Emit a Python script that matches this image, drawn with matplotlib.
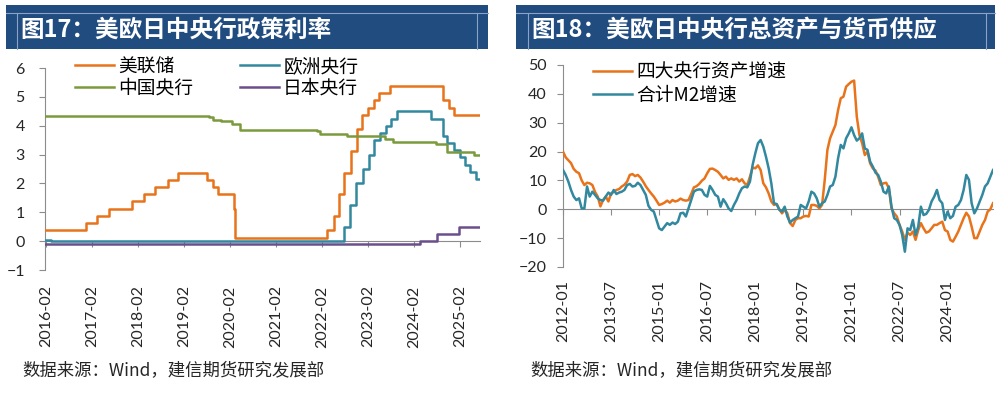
# -*- coding: utf-8 -*-
"""
图17/图18: 美欧日中央行政策利率 & 总资产与货币供应
"""
import numpy as np
import pandas as pd
import matplotlib
matplotlib.use('Agg')
import matplotlib.pyplot as plt
import matplotlib.dates as mdates
from matplotlib.patches import Rectangle
from matplotlib.lines import Line2D

plt.rcParams['font.family'] = ['Lato', 'Noto Sans CJK SC', 'DejaVu Sans']

##########################################################################
## 1. Data
## 1.1 policy rates (change points, step series)
start_date, end_date = '2016-01-25', '2025-07-10'

fed_dates = ['2016-01-25', '2016-12-15', '2017-03-16', '2017-06-15', '2017-12-14',
             '2018-03-22', '2018-06-14', '2018-09-27', '2018-12-20', '2019-08-01',
             '2019-09-19', '2019-10-31', '2020-03-04', '2020-03-16', '2022-03-17',
             '2022-05-05', '2022-06-16', '2022-07-28', '2022-09-22', '2022-11-03',
             '2022-12-15', '2023-02-02', '2023-03-23', '2023-05-04', '2023-07-27',
             '2024-09-19', '2024-11-08', '2024-12-19']
fed_rates = [0.375, 0.625, 0.875, 1.125, 1.375, 1.625, 1.875, 2.125, 2.375, 2.125,
             1.875, 1.625, 1.125, 0.125, 0.375, 0.875, 1.625, 2.375, 3.125, 3.875,
             4.375, 4.625, 4.875, 5.125, 5.375, 4.875, 4.625, 4.375]

ecb_dates = ['2016-01-25', '2016-03-16', '2022-07-27', '2022-09-14', '2022-11-02',
             '2022-12-21', '2023-02-08', '2023-03-22', '2023-05-10', '2023-06-21',
             '2023-08-02', '2023-09-20', '2024-06-12', '2024-09-18', '2024-10-23',
             '2024-12-18', '2025-02-05', '2025-03-12', '2025-04-23', '2025-06-11']
ecb_rates = [0.05, 0.00, 0.50, 1.25, 2.00, 2.50, 3.00, 3.50, 3.75, 4.00,
             4.25, 4.50, 4.25, 3.65, 3.40, 3.15, 2.90, 2.65, 2.40, 2.15]

pboc_dates = ['2016-01-25', '2019-08-20', '2019-09-20', '2019-11-20', '2020-02-20',
              '2020-04-20', '2021-12-20', '2022-01-20', '2022-08-22', '2023-06-20',
              '2023-08-21', '2024-07-22', '2024-10-21', '2025-05-20']
pboc_rates = [4.35, 4.31, 4.20, 4.15, 4.05, 3.85, 3.80, 3.70, 3.65, 3.55,
              3.45, 3.35, 3.10, 3.00]

boj_dates = ['2016-01-25', '2024-03-19', '2024-07-31', '2025-01-24']
boj_rates = [-0.10, 0.00, 0.25, 0.50]

## 1.2 total assets / M2 growth (monthly, from 2012-01)
asset_growth = [20, 18, 17, 16, 14, 13, 12.5, 10, 8.4, 9.2, 9, 8.4, 6, 4.4, 1, 3.2,
                4.4, 2.7, 5.5, 6, 6.7, 7, 7.9, 8.5, 9.6, 11.9, 12.2, 11.5, 11.9, 11, 9.6, 8,
                6.7, 5.5, 4.4, 3, 1.5, 1.8, 2.3, 3, 2.3, 3.2, 2.7, 3, 3.7, 3.2, 3, 3.2,
                5.3, 7.6, 8, 8.8, 9.9, 10.7, 12.5, 14, 14.1, 13.6, 13, 11.9, 10.7, 11.3, 10.2, 10.7,
                10.2, 10.7, 9.6, 10.4, 9, 8.4, 11.3, 14.5, 14.2, 15.2, 13.6, 9, 7.6, 5.5, 2.7, 1.5,
                1.8, 0, -1.4, -0.2, -1.4, -4.8, -5.8, -3.7, -3.1, -3.1, -2.5, -2.3, -2.5, 1.5, 1.5, 1.2,
                0.3, 1.5, 10.2, 20.6, 24.6, 26.9, 29.2, 34.4, 38.5, 39, 42.5, 43.4, 44.2, 44.6, 32.1, 25.7,
                22.9, 18.8, 20, 15.9, 14.2, 13.4, 11.3, 8.4, 9, 9.2, 7.3, 0.3, -1.4, -2.5, -5.4, -7.7,
                -10.6, -8.1, -8.9, -7.7, -10.6, -7.2, -4.8, -6.6, -8.1, -7.7, -6.6, -5.4, -5.4, -4.8, -4.3, -7.2,
                -7.7, -10.6, -11.2, -9.5, -7.7, -5.4, -3.1, -1.2, -2.5, -6, -10, -10, -7.7, -5.4, -3.7, -0.8,
                0, 2.1]
m2_growth = [13.6, 11.9, 9.6, 6.7, 4.4, 3.2, 3.8, 0.3, 0.3, 7.9, 4.4, 6.1, 5, 3.8, 3.2, 3,
             4.4, 5.8, 5, 6.7, 5.3, 5.8, 6.1, 6.7, 8.4, 8.8, 7.9, 8.1, 9.2, 8.4, 6.7, 5,
             1.2, -0.2, -0.8, -3.7, -6.6, -7.2, -6, -4.8, -5.4, -4.6, -5.1, -4.3, -1.4, -1.2, -2.5, 0.3,
             3.2, 6.1, 6.7, 6.9, 6.7, 5, 4.4, 8.1, 6.7, 5, 4.4, 0.9, 3.5, 2.1, 0.3, -0.6,
             1.5, 3.2, 5.5, 7.3, 7.9, 7.6, 9.6, 15.4, 19.4, 22.9, 24, 21.7, 18.2, 14.2, 9, 2.1,
             1.8, -0.2, -0.8, 0.9, -2.5, -4.6, -3.7, -3.1, -2.5, 1.5, 0.9, 0.3, 2.7, 6.1, 5.5, 3.8,
             0.9, 2.1, 2.7, 5, 7.9, 8.4, 11.3, 17.7, 22.3, 21.1, 24.6, 26.3, 28.4, 25.7, 23.8, 24.6,
             26.3, 21.1, 20.6, 16.5, 14.8, 12.7, 11.9, 9.6, 6.1, 5.5, 7.9, 0.9, -3.1, -3.7, -5.4, -8.9,
             -14.7, -6.6, -7.2, -3.7, -8.9, -6, 0.9, -2, -1.6, -0.2, 2.7, 4.4, 6.7, 3.2, 2.1, -3.7,
             -0.8, -3.1, -2.3, 0.9, 1.5, 3.2, 6.7, 11.9, 10.2, 2.1, -1.4, 0.3, 2.7, 5, 7.9, 9,
             11.3, 13.6]
months = pd.period_range('2012-01', periods=len(asset_growth), freq='M').strftime('%Y-%m')

##########################################################################
## 2. Styles
c_orange = '#E8731A'
c_teal = '#31889F'
c_green = '#7A9A3C'
c_purple = '#6A4F8C'
c_bar = '#214C80'
c_barline = '#8AA3C6'
c_axis = '#8C8C8C'
c_text = '#262626'

W, H = 1005, 396
fig = plt.figure(figsize=(W / 100, H / 100), dpi=100)


def fx(x):
    return x / W


def fy(y):
    return 1 - y / H


def title_bar(x0, x1, ix0, ix1, text):
    fig.add_artist(Rectangle((fx(x0), fy(49)), fx(x1 - x0), (49 - 5) / H,
                             transform=fig.transFigure, facecolor=c_bar, edgecolor='none'))
    fig.add_artist(Line2D([fx(x0), fx(x1)], [fy(13), fy(13)], transform=fig.transFigure,
                          color=c_barline, lw=0.8))
    for xi in (ix0, ix1):
        fig.add_artist(Line2D([fx(xi), fx(xi)], [fy(13), fy(49)], transform=fig.transFigure,
                              color=c_barline, lw=0.8))
    fig.text(fx(ix0 + 3), fy(30), text, color='white', fontsize=17, fontweight='bold',
             va='center', ha='left', family=['Noto Sans CJK SC', 'DejaVu Sans'])


def style_axes(ax, pad_y):
    ax.spines['top'].set_visible(False)
    ax.spines['right'].set_visible(False)
    ax.spines['left'].set_color(c_axis)
    ax.spines['bottom'].set_color(c_axis)
    ax.spines['bottom'].set_position(('data', 0))
    ax.tick_params(axis='y', direction='out', length=4.5, width=0.8, color=c_axis,
                   labelsize=11.5, labelcolor=c_text, pad=pad_y)
    ax.tick_params(axis='x', direction='out', length=4, width=0.8, color=c_axis,
                   labelbottom=False)
    ax.set_facecolor('none')


def step_line(ax, dates, rates, color, label, z=3):
    d = pd.to_datetime(dates + [end_date])
    r = rates + [rates[-1]]
    ax.step(d, r, where='post', color=color, lw=1.8, label=label, zorder=z)


##########################################################################
## 3. Left: policy rates
title_bar(6, 488, 17, 477, '图17：美欧日中央行政策利率')
ax1 = fig.add_axes([fx(45), fy(270), fx(480 - 45), (270 - 68) / H])
step_line(ax1, fed_dates, fed_rates, c_orange, '美联储')
step_line(ax1, ecb_dates, ecb_rates, c_teal, '欧洲央行')
step_line(ax1, pboc_dates, pboc_rates, c_green, '中国央行')
step_line(ax1, boj_dates, boj_rates, c_purple, '日本央行')
ax1.set_ylim(-1, 6)
ax1.set_yticks(range(-1, 7))
ax1.set_xlim(pd.Timestamp(start_date), pd.Timestamp(end_date))
style_axes(ax1, 10)
ax1.xaxis.set_major_locator(mdates.YearLocator(month=2))

sec1 = ax1.secondary_xaxis(0)
sec1.spines['bottom'].set_visible(False)
sec1.xaxis.set_major_locator(mdates.YearLocator(month=2))
sec1.xaxis.set_major_formatter(mdates.DateFormatter('%Y-%m'))
sec1.tick_params(length=0, pad=11, labelsize=11.5, labelcolor=c_text, labelrotation=90)

h, l = ax1.get_legend_handles_labels()
order = [0, 2, 1, 3]
ax1.legend([h[i] for i in order], [l[i] for i in order], ncol=2, loc='upper left',
           bbox_to_anchor=(0.069, 1.06), frameon=False, borderpad=0, borderaxespad=0,
           handlelength=2.1, handletextpad=0.2, columnspacing=2.5, labelspacing=0.05,
           prop={'family': ['Noto Sans CJK SC'], 'size': 13.5})

##########################################################################
## 4. Right: total assets & M2
title_bar(516, 995, 528, 986, '图18：美欧日中央行总资产与货币供应')
ax2 = fig.add_axes([fx(563), fy(267), fx(993 - 563), (267 - 65) / H])
x = np.arange(len(asset_growth))
ax2.plot(x, asset_growth, color=c_orange, lw=1.8, label='四大央行资产增速', zorder=3)
ax2.plot(x, m2_growth, color=c_teal, lw=1.8, label='合计M2增速', zorder=3)
ax2.set_ylim(-20, 50)
ax2.set_yticks(range(-20, 51, 10))
ax2.set_xlim(0, len(x) - 1)
style_axes(ax2, 7)
ticks = x[::18]
ax2.set_xticks(ticks)

sec2 = ax2.secondary_xaxis(0)
sec2.spines['bottom'].set_visible(False)
sec2.set_xticks(ticks)
sec2.set_xticklabels([months[i] for i in ticks])
sec2.tick_params(length=0, pad=9.5, labelsize=11.5, labelcolor=c_text, labelrotation=90)

ax2.legend(loc='upper left', bbox_to_anchor=(0.07, 1.015), frameon=False, borderpad=0,
           borderaxespad=0, handlelength=2.1, handletextpad=0.2, labelspacing=0.1,
           prop={'family': ['Noto Sans CJK SC'], 'size': 13.5})

##########################################################################
## 5. Source notes
for xs in (22, 530):
    fig.text(fx(xs), fy(370), '数据来源：Wind，建信期货研究发展部', fontsize=12.5,
             style='italic', color=c_text, va='center', ha='left',
             family=['Noto Sans CJK SC', 'DejaVu Sans'])

fig.savefig('out.png', dpi=100)
